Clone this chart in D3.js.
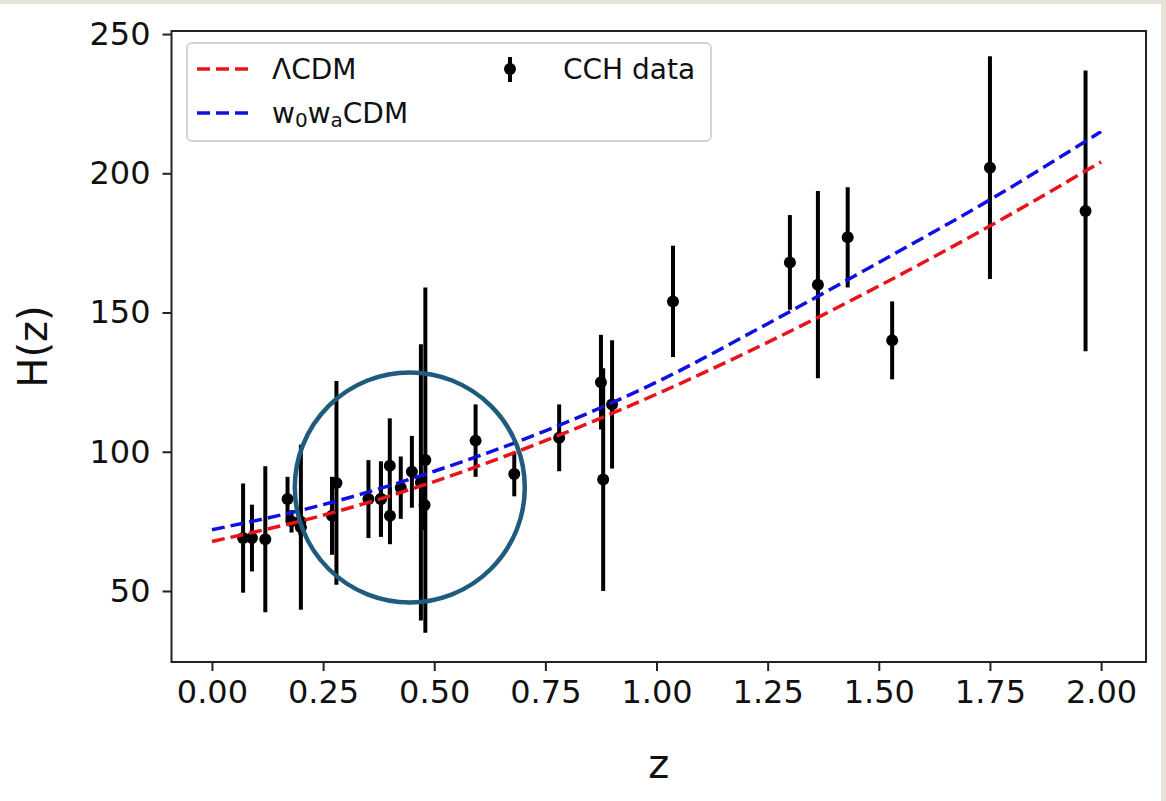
<!DOCTYPE html>
<html>
<head>
<meta charset="utf-8">
<script src="https://cdn.jsdelivr.net/npm/d3@7.9.0/dist/d3.min.js"></script>
<style>
  body { margin: 0; background: #fff; }
  svg { display: block; font-family: "DejaVu Sans", sans-serif; }
</style>
</head>
<body>
<svg id="chart" width="1166" height="801"></svg>
<script>
// CCH measurements: redshift, H(z), error
const zData = [0.07, 0.09, 0.12, 0.17, 0.179, 0.199, 0.20, 0.27, 0.28, 0.352, 0.38, 0.3802,
  0.40, 0.4004, 0.4247, 0.4497, 0.47, 0.4783, 0.48, 0.593, 0.68, 0.781, 0.875, 0.88,
  0.90, 1.037, 1.30, 1.363, 1.43, 1.53, 1.75, 1.965];
const hData = [69, 69, 68.6, 83, 75, 75, 72.9, 77, 88.8, 83, 83, 83,
  95, 77, 87.1, 92.8, 89, 80.9, 97, 104, 92, 105, 125, 90,
  117, 154, 168, 160, 177, 140, 202, 186.5];
const sigData = [19.6, 12, 26.2, 8, 4, 5, 29.6, 14, 36.6, 14, 13.5, 13.5,
  17, 10.2, 11.2, 12.9, 49.6, 9, 62, 13, 8, 12, 17, 40,
  23, 20, 17, 33.6, 18, 14, 40, 50.4];

// model curves
const zModel = [0, 0.25, 0.5, 0.75, 1.0, 1.25, 1.5, 1.75, 2.0];
const hLCDM = [67.8, 77.2, 89.3, 104.0, 120.7, 139.3, 159.5, 181.1, 204.1];
const hW0WA = [72.0, 81.0, 93.0, 107.5, 125.0, 146.0, 168.0, 190.5, 215.0];

const xTicks = [0, 0.25, 0.5, 0.75, 1.0, 1.25, 1.5, 1.75, 2.0];
const yTicks = [50, 100, 150, 200, 250];

const svg = d3.select('#chart');

// frame of the screenshot
svg.append('rect').attr('x', 0).attr('y', 0).attr('width', 1166).attr('height', 4).attr('fill', '#e7e3d8');
svg.append('rect').attr('x', 1161).attr('y', 0).attr('width', 5).attr('height', 801).attr('fill', '#e7e3d8');

const mLeft = 171.5, mRight = 1146, mTop = 31, mBottom = 662;
const x = d3.scaleLinear().domain([-0.091, 2.101]).range([mLeft, mRight]);
const y = d3.scaleLinear().domain([24.5, 251.1]).range([mBottom, mTop]);

// axes
const xAxis = d3.axisBottom(x).tickValues(xTicks).tickFormat(d3.format('.2f')).tickSize(9).tickPadding(9);
const yAxis = d3.axisLeft(y).tickValues(yTicks).tickFormat(d3.format('d')).tickSize(9).tickPadding(12);

const gx = svg.append('g').attr('transform', `translate(0,${mBottom})`).call(xAxis);
const gy = svg.append('g').attr('transform', `translate(${mLeft},0)`).call(yAxis);
[gx, gy].forEach(g => {
  g.select('.domain').remove();
  g.selectAll('line').attr('stroke', '#222').attr('stroke-width', 2);
  g.selectAll('text').attr('font-size', 32).attr('fill', '#111').attr('font-family', '"DejaVu Sans"');
});

// error bars
const bars = svg.append('g');
zData.forEach((z, i) => {
  bars.append('line')
    .attr('x1', x(z)).attr('x2', x(z))
    .attr('y1', y(hData[i] - sigData[i])).attr('y2', y(hData[i] + sigData[i]))
    .attr('stroke', '#000').attr('stroke-width', 4);
  bars.append('circle').attr('cx', x(z)).attr('cy', y(hData[i])).attr('r', 6).attr('fill', '#000');
});

// model lines
const line = d3.line().x(d => x(d[0])).y(d => y(d[1])).curve(d3.curveMonotoneX);
svg.append('path').datum(zModel.map((z, i) => [z, hLCDM[i]]))
  .attr('d', line).attr('fill', 'none').attr('stroke', '#e8141a')
  .attr('stroke-width', 3.5).attr('stroke-dasharray', '13,6');
svg.append('path').datum(zModel.map((z, i) => [z, hW0WA[i]]))
  .attr('d', line).attr('fill', 'none').attr('stroke', '#1010e0')
  .attr('stroke-width', 3.5).attr('stroke-dasharray', '13,6');

// axes frame
svg.append('rect').attr('x', mLeft).attr('y', mTop).attr('width', mRight - mLeft).attr('height', mBottom - mTop)
  .attr('fill', 'none').attr('stroke', '#222').attr('stroke-width', 2);

// axis labels
svg.append('text').attr('x', (mLeft + mRight) / 2).attr('y', 778).attr('text-anchor', 'middle')
  .attr('font-size', 40).attr('fill', '#111').text('z');
svg.append('text').attr('transform', `translate(47,${(mTop + mBottom) / 2}) rotate(-90)`)
  .attr('text-anchor', 'middle').attr('font-size', 40).attr('fill', '#111').text('H(z)');

// legend
const lg = svg.append('g');
lg.append('rect').attr('x', 187).attr('y', 43).attr('width', 524).attr('height', 98).attr('rx', 5)
  .attr('fill', 'rgba(255,255,255,0.8)').attr('stroke', '#d4d4d4').attr('stroke-width', 2);
lg.append('line').attr('x1', 197).attr('x2', 251).attr('y1', 69).attr('y2', 69)
  .attr('stroke', '#e8141a').attr('stroke-width', 3.5).attr('stroke-dasharray', '13,6');
lg.append('line').attr('x1', 197).attr('x2', 251).attr('y1', 113).attr('y2', 113)
  .attr('stroke', '#1010e0').attr('stroke-width', 3.5).attr('stroke-dasharray', '13,6');
lg.append('text').attr('x', 272).attr('y', 79).attr('font-size', 28).attr('fill', '#111').text('ΛCDM');
const t2 = lg.append('text').attr('x', 272).attr('y', 123).attr('font-size', 28).attr('fill', '#111');
t2.append('tspan').text('w');
t2.append('tspan').attr('font-size', 20).attr('dy', 4).text('0');
t2.append('tspan').attr('dy', -4).text('w');
t2.append('tspan').attr('font-size', 20).attr('dy', 4).text('a');
t2.append('tspan').attr('dy', -4).text('CDM');
lg.append('line').attr('x1', 510).attr('x2', 510).attr('y1', 57).attr('y2', 82)
  .attr('stroke', '#000').attr('stroke-width', 4);
lg.append('circle').attr('cx', 510).attr('cy', 69).attr('r', 6).attr('fill', '#000');
lg.append('text').attr('x', 563).attr('y', 79).attr('font-size', 28).attr('fill', '#111').text('CCH data');

// highlight circle
svg.append('circle').attr('cx', x(0.445)).attr('cy', y(87.2)).attr('r', 115)
  .attr('fill', 'none').attr('stroke', '#1f5b7d').attr('stroke-width', 4.5);
</script>
</body>
</html>
